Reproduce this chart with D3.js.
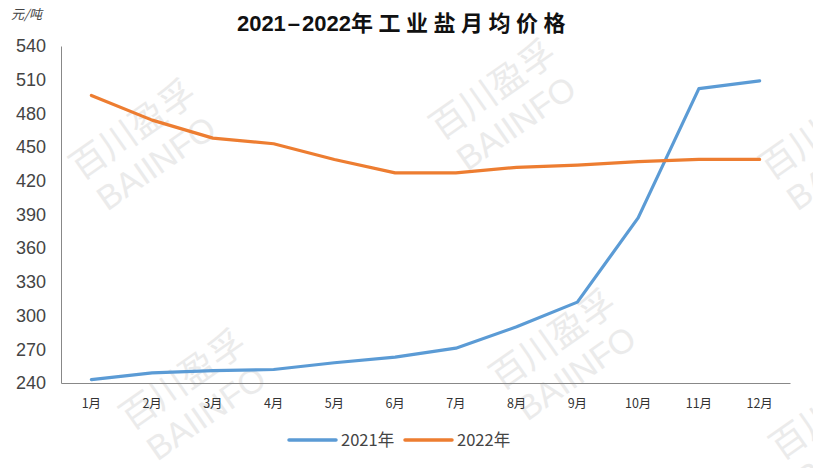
<!DOCTYPE html>
<html>
<head>
<meta charset="utf-8">
<script src="https://cdn.jsdelivr.net/npm/d3@7"></script>
<style>
  body { margin: 0; background: #fff; }
  svg { display: block; font-family: "Liberation Sans", Arial, sans-serif; }
</style>
</head>
<body>
<script>
// chart data
var months = ["1月", "2月", "3月", "4月", "5月", "6月", "7月", "8月", "9月", "10月", "11月", "12月"];
var price2021 = [243, 249, 251, 252, 258, 263, 271, 290, 312, 387, 502, 509];
var price2022 = [496, 474, 458, 453, 439, 427, 427, 432, 434, 437, 439, 439];
var yTicks = [240, 270, 300, 330, 360, 390, 420, 450, 480, 510, 540];
var seriesNames = ["2021年", "2022年"];
var colors = ["#5B9BD5", "#ED7D31"];

var width = 813, height = 468;
var margin = { top: 46, right: 23, bottom: 85, left: 61 };

var svg = d3.select("body").append("svg")
    .attr("width", width)
    .attr("height", height);

// watermark, light grey, rotated (cut at the right edge like the original)
var marks = [[140, 140], [500, 100], [830, 140], [190, 390], [560, 350], [840, 420]];
marks.forEach(function (p) {
    var w = svg.append("g")
        .attr("transform", "translate(" + p[0] + "," + p[1] + ") rotate(-35)")
        .attr("fill", "#ebebeb");
    w.append("text").attr("text-anchor", "middle").attr("font-size", 36)
        .attr("font-family", "Noto Sans CJK SC").text("百川盈孚");
    w.append("text").attr("text-anchor", "middle").attr("y", 40).attr("font-size", 34)
        .attr("font-family", "Liberation Sans").text("BAIINFO");
});

var x = d3.scaleBand()
    .domain(months)
    .range([margin.left, width - margin.right]);

var y = d3.scaleLinear()
    .domain([240, 540])
    .range([height - margin.bottom, margin.top]);

// y axis
var yAxis = svg.append("g")
    .attr("transform", "translate(" + margin.left + ",0)")
    .call(d3.axisLeft(y).tickValues(yTicks).tickSize(0).tickPadding(15));
yAxis.select(".domain").attr("stroke", "#888");
yAxis.selectAll("text").attr("font-size", 18).attr("fill", "#444");

// x axis
var xAxis = svg.append("g")
    .attr("transform", "translate(0," + (height - margin.bottom) + ")")
    .call(d3.axisBottom(x).tickSize(0).tickPadding(16));
xAxis.select(".domain").attr("stroke", "#888");
xAxis.selectAll("text").attr("font-size", 12.5).attr("fill", "#333")
    .attr("font-family", "Noto Sans CJK SC");

// lines
var line = d3.line()
    .x(function (d, i) { return x(months[i]) + x.bandwidth() / 2; })
    .y(function (d) { return y(d); });

[price2021, price2022].forEach(function (s, i) {
    svg.append("path")
        .datum(s)
        .attr("fill", "none")
        .attr("stroke", colors[i])
        .attr("stroke-width", 3.2)
        .attr("stroke-linejoin", "round")
        .attr("stroke-linecap", "round")
        .attr("d", line);
});

// title + unit
var title = svg.append("text")
    .attr("x", 404).attr("y", 31)
    .attr("text-anchor", "middle")
    .attr("font-size", 22).attr("font-weight", "bold")
    .attr("fill", "#111");
title.append("tspan").attr("font-family", "Liberation Sans").text("2021");
title.append("tspan").attr("font-family", "Liberation Sans").attr("dx", 2).text("–");
title.append("tspan").attr("font-family", "Liberation Sans").attr("dx", 2).text("2022");
title.append("tspan").attr("font-family", "Noto Sans CJK SC")
    .attr("letter-spacing", 5.5).text("年工业盐月均价格");

svg.append("text")
    .attr("x", 11).attr("y", 19)
    .attr("font-size", 13)
    .attr("font-style", "italic")
    .attr("font-family", "Noto Sans CJK SC")
    .attr("fill", "#444")
    .text("元/吨");

// legend
var legend = svg.append("g").attr("transform", "translate(289,440)");
var lx = [0, 116];
seriesNames.forEach(function (n, i) {
    legend.append("line")
        .attr("x1", lx[i]).attr("x2", lx[i] + 47)
        .attr("stroke", colors[i]).attr("stroke-width", 3.5)
        .attr("stroke-linecap", "round");
    legend.append("text")
        .attr("x", lx[i] + 52).attr("y", 6)
        .attr("font-size", 16.5).attr("fill", "#444")
        .attr("font-family", "Noto Sans CJK SC")
        .text(n);
});
</script>
</body>
</html>
